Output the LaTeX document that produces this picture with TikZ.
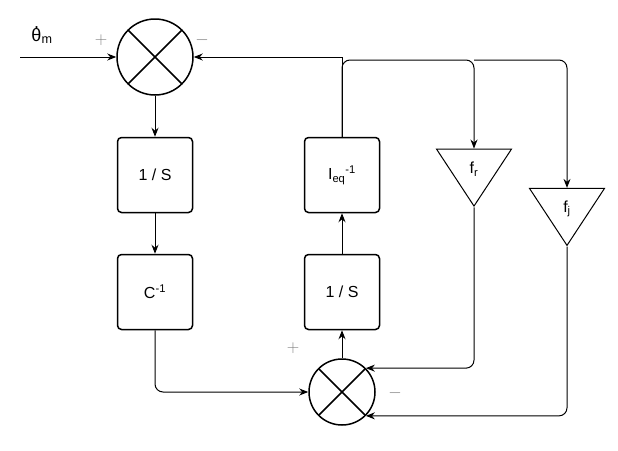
\documentclass[tikz,border=0pt]{standalone}
\usepackage{fontspec}
\setmainfont{Liberation Sans}
\usetikzlibrary{arrows.meta,shapes.geometric,calc}

\begin{document}
\begin{tikzpicture}[
  x=1pt, y=-1pt,
  > = {Stealth[length=9pt,width=7pt]},
  line width=1pt,
  blk/.style = {rectangle, draw, rounded corners=4pt, minimum size=75pt,
                inner sep=0pt, font=\fontsize{16}{18}\selectfont, line width=1.5pt},
  sum/.style = {circle, draw, minimum size=#1, inner sep=0pt, line width=1.5pt,
                path picture={\draw[line width=1.5pt]
                  (path picture bounding box.south west) -- (path picture bounding box.north east)
                  (path picture bounding box.north west) -- (path picture bounding box.south east);}},
  gain/.style = {isosceles triangle, draw, shape border rotate=-90,
                 isosceles triangle stretches=true, minimum width=75pt,
                 minimum height=57pt, inner sep=0pt, line width=1pt,
                 font=\fontsize{16}{18}\selectfont},
  sgn/.style = {text=gray, font=\fontsize{18}{18}\selectfont}
]
\useasboundingbox (0,0) rectangle (618,450);

% ───────── left column ─────────
\node[sum=76pt] (s1) at (155,57) {};
\node[blk] (int1) at (155,175) {1 / S};
\node[blk] (cinv) at (155,292) {C\textsuperscript{-1}};

% ───────── middle column ─────────
\node[sum=66pt] (s2) at (342,392) {};
\node[blk] (int2) at (342,292) {1 / S};
\node[blk] (ieq)  at (342,175) {I\textsubscript{eq}\textsuperscript{-1}};

% ───────── gains ─────────
\node[gain] (fr) at (474,169) {f\textsubscript{r}};
\node[gain] (fj) at (567,209) {f\textsubscript{j}};

% ───────── labels ─────────
\coordinate (in) at (20,57);
\node[font=\fontsize{18}{18}\selectfont, inner sep=1pt] (th) at (42,36)
  {\ooalign{θ\cr\hidewidth\raisebox{0.72em}{.}\hidewidth\cr}\textsubscript{m}};
\node[sgn] at (101,40) {$+$};
\node[sgn] at (202,40) {$-$};
\node[sgn] at (293,348) {$+$};
\node[sgn] at (395,393) {$-$};

% ───────── arrows ──────────
\draw[->] (in) -- (s1);
\draw[->] (s1) -- (int1);
\draw[->] (int1) -- (cinv);
\draw[->, rounded corners=8pt] (cinv.south) |- (s2.west);
\draw[->] (s2) -- (int2);
\draw[->] (int2) -- (ieq);
\draw[->] (ieq.north) |- (s1.east);
\draw[->, rounded corners=8pt] (ieq.north) |- (474,60) -- ($(fr.left corner)!0.5!(fr.right corner)$);
\draw[->, rounded corners=8pt] (474,60) -| ($(fj.left corner)!0.5!(fj.right corner)$);
\draw[->, rounded corners=8pt] (fr.apex) |- (s2.45);
\draw[->, rounded corners=8pt] (fj.apex) |- (s2.-45);

\end{tikzpicture}
\end{document}
